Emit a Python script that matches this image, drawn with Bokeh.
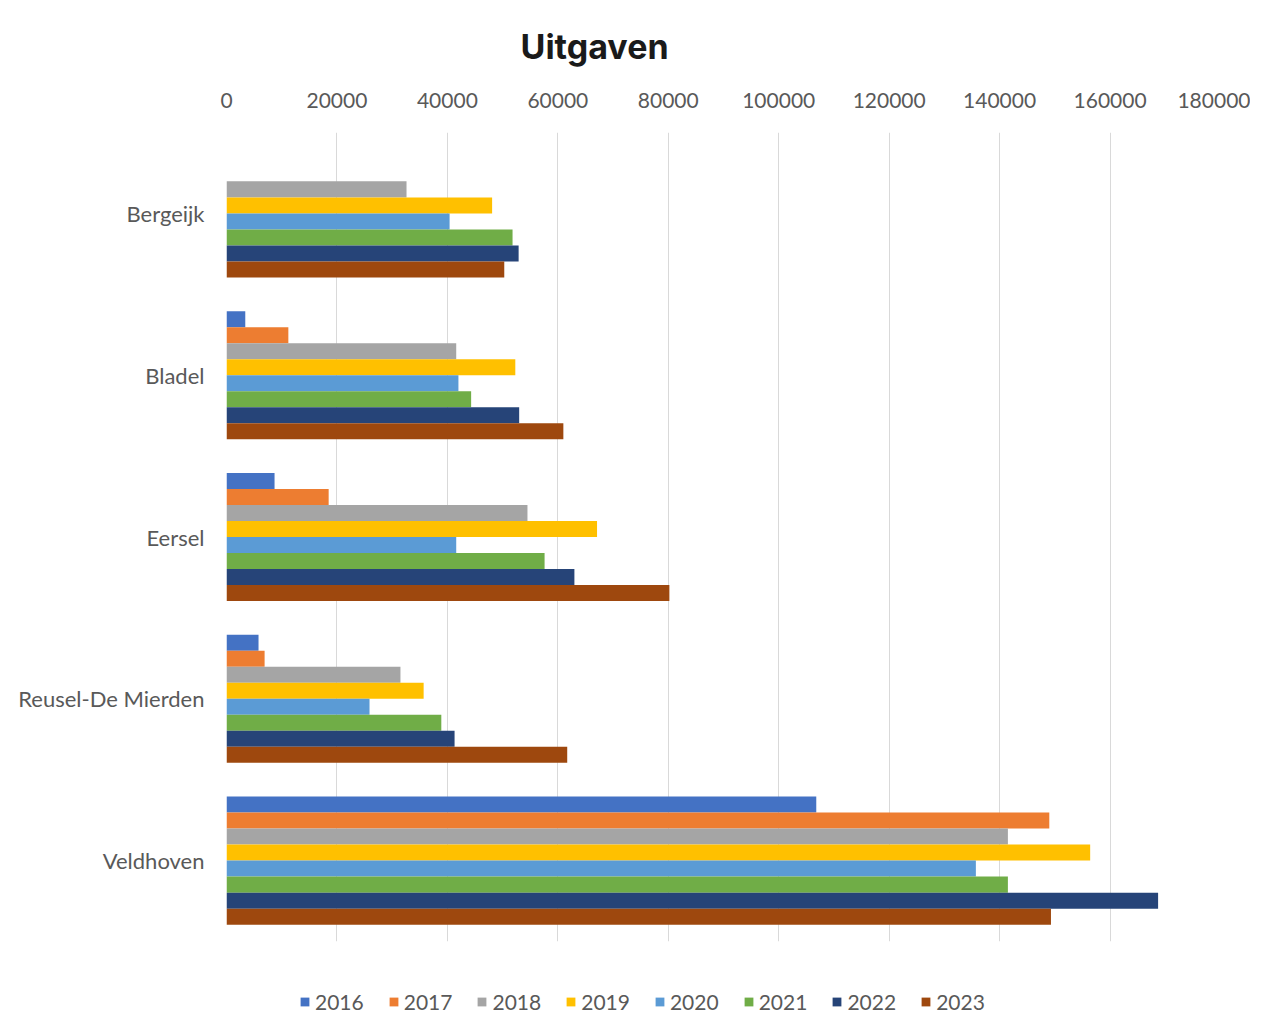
from bokeh.plotting import figure
from bokeh.models import FactorRange, ColumnDataSource, Legend, LegendItem, Range1d, SingleIntervalTicker
from bokeh.transform import dodge
from bokeh.embed import file_html
from bokeh.resources import INLINE

gemeenten = ["Bergeijk", "Bladel", "Eersel", "Reusel-De Mierden", "Veldhoven"]
jaren = ["2016", "2017", "2018", "2019", "2020", "2021", "2022", "2023"]

v2016 = [0, 3400, 8700, 5800, 106800]
v2017 = [0, 11200, 18500, 6900, 149000]
v2018 = [32600, 41600, 54500, 31500, 141500]
v2019 = [48100, 52300, 67100, 35700, 156400]
v2020 = [40400, 42000, 41600, 25900, 135700]
v2021 = [51800, 44300, 57600, 38900, 141500]
v2022 = [52900, 53000, 63000, 41300, 168700]
v2023 = [50300, 61000, 80200, 61700, 149300]

series = [v2016, v2017, v2018, v2019, v2020, v2021, v2022, v2023]
kleuren = ["#4472C4", "#ED7D31", "#A5A5A5", "#FFC000", "#5B9BD5", "#70AD47", "#264478", "#9E480E"]

data = {"g": gemeenten}
for j, s in zip(jaren, series):
    data["y" + j] = s
src = ColumnDataSource(data)

FONT = "Lato"
GRAY = "#595959"

p = figure(frame_width=994, frame_height=809, output_backend="svg", toolbar_location=None,
           y_range=FactorRange(*reversed(gemeenten)), x_range=Range1d(0, 180000),
           x_axis_location="above", title="Uitgaven")
p.min_border_left = 226
p.min_border_right = 30
p.min_border_top = 129
p.min_border_bottom = 0
p.outline_line_color = None

h = 0.099
items = []
for i, (j, c) in enumerate(zip(jaren, kleuren)):
    r = p.hbar(y=dodge("g", (3.5 - i) * h, range=p.y_range), right="y" + j, left=0,
               height=h, source=src, fill_color=c, line_color=None)
    items.append(LegendItem(label=j, renderers=[r]))

p.xaxis.ticker = SingleIntervalTicker(interval=20000)
p.xaxis.formatter.use_scientific = False
for ax in (p.xaxis, p.yaxis):
    ax.axis_line_color = None
    ax.major_tick_line_color = None
    ax.minor_tick_line_color = None
    ax.major_label_text_font = FONT
    ax.major_label_text_color = GRAY
p.xaxis.major_label_text_font_size = "21px"
p.yaxis.major_label_text_font_size = "22px"
p.xaxis.major_label_standoff = 19
p.yaxis.major_label_standoff = 16
p.ygrid.grid_line_color = None
p.xgrid.grid_line_color = "#d9d9d9"
p.xgrid.grid_line_width = 1

p.title.text_font = "Inter"
p.title.text_font_size = "34px"
p.title.text_font_style = "bold"
p.title.text_color = "#1a1a1a"
p.title.align = "left"
p.title.offset = 294
p.title.standoff = 46

legend = Legend(items=items, orientation="horizontal", location="top_left",
                glyph_width=11, glyph_height=11, label_standoff=5, spacing=24,
                label_text_font=FONT, label_text_font_size="21px", label_text_color=GRAY,
                title=" ", title_location="left", title_standoff=24,
                title_text_font_size="1px",
                border_line_color=None, background_fill_alpha=0, padding=0, margin=48)
p.add_layout(legend, "below")

open("out.html", "w").write(file_html(p, INLINE))
